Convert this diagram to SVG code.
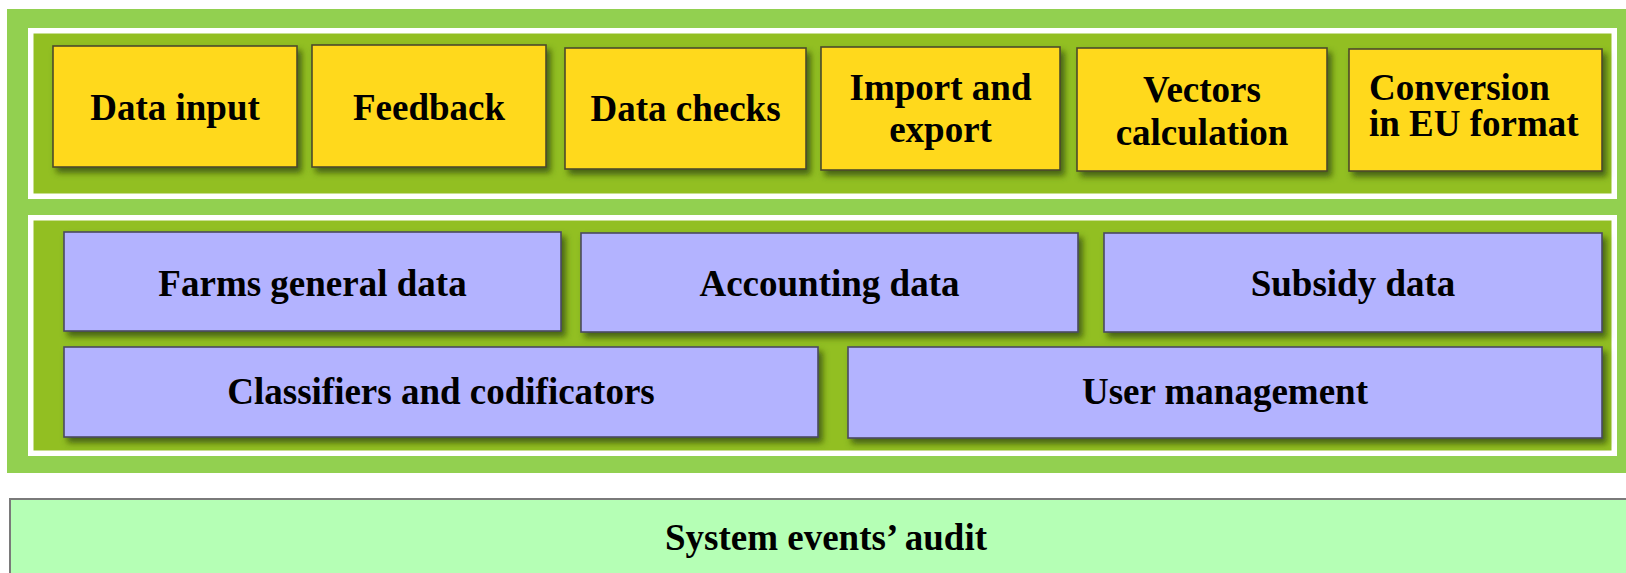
<svg xmlns="http://www.w3.org/2000/svg" width="1626" height="573" viewBox="0 0 1626 573">
<defs>
<filter id="sh" x="-10%" y="-20%" width="130%" height="150%">
<feDropShadow dx="4" dy="5" stdDeviation="3" flood-color="#3a5208" flood-opacity="0.85"/>
</filter>
</defs>
<style>
.t{font-family:"Liberation Serif","Times New Roman",serif;font-weight:bold;font-size:37px;fill:#000;text-anchor:middle}
.y{fill:#FFD91A;stroke:#4d4a2a;stroke-width:1.6;filter:url(#sh)}
.b{fill:#B3B3FF;stroke:#4a4a60;stroke-width:1.6;filter:url(#sh)}
.panel{fill:#92BF22;stroke:#FFFFFF;stroke-width:5.5}
</style>
<rect x="0" y="0" width="1626" height="573" fill="#FFFFFF"/>
<g id="outer">
<rect x="7" y="9" width="1625" height="464" fill="#92D050"/>
</g>
<g id="panel-top">
<rect class="panel" x="30.75" y="30.75" width="1583.5" height="165.5"/>
</g>
<g id="panel-bottom">
<rect class="panel" x="30.75" y="217.75" width="1583.5" height="235.5"/>
</g>
<g id="data-input"><rect class="y" x="53" y="46" width="244" height="121"/><text class="t" x="175" y="120">Data input</text></g>
<g id="feedback"><rect class="y" x="312" y="45" width="234" height="122"/><text class="t" x="429" y="120">Feedback</text></g>
<g id="data-checks"><rect class="y" x="565" y="48" width="241" height="121"/><text class="t" x="685.5" y="121">Data checks</text></g>
<g id="import-export"><rect class="y" x="821" y="47" width="239" height="123"/><text class="t" x="940.5" y="100">Import and</text><text class="t" x="940.5" y="142">export</text></g>
<g id="vectors"><rect class="y" x="1077" y="48" width="250" height="123"/><text class="t" x="1202" y="102">Vectors</text><text class="t" x="1202" y="145">calculation</text></g>
<g id="conversion"><rect class="y" x="1349" y="49" width="253" height="122"/><text class="t" x="1369" y="100" style="text-anchor:start">Conversion</text><text class="t" x="1369" y="136" style="text-anchor:start">in EU format</text></g>
<g id="farms"><rect class="b" x="64" y="232" width="497" height="99"/><text class="t" x="312.5" y="296">Farms general data</text></g>
<g id="accounting"><rect class="b" x="581" y="233" width="497" height="99"/><text class="t" x="829.5" y="296">Accounting data</text></g>
<g id="subsidy"><rect class="b" x="1104" y="233" width="498" height="99"/><text class="t" x="1353" y="296">Subsidy data</text></g>
<g id="classifiers"><rect class="b" x="64" y="347" width="754" height="90"/><text class="t" x="441" y="404">Classifiers and codificators</text></g>
<g id="user-management"><rect class="b" x="848" y="347" width="754" height="91"/><text class="t" x="1225" y="404">User management</text></g>
<g id="audit"><rect x="10" y="499" width="1630" height="100" fill="#B5FFB5" stroke="#7a7a7a" stroke-width="2"/><text class="t" x="826" y="550">System events’ audit</text></g>
<g id="connectors"></g>
</svg>
